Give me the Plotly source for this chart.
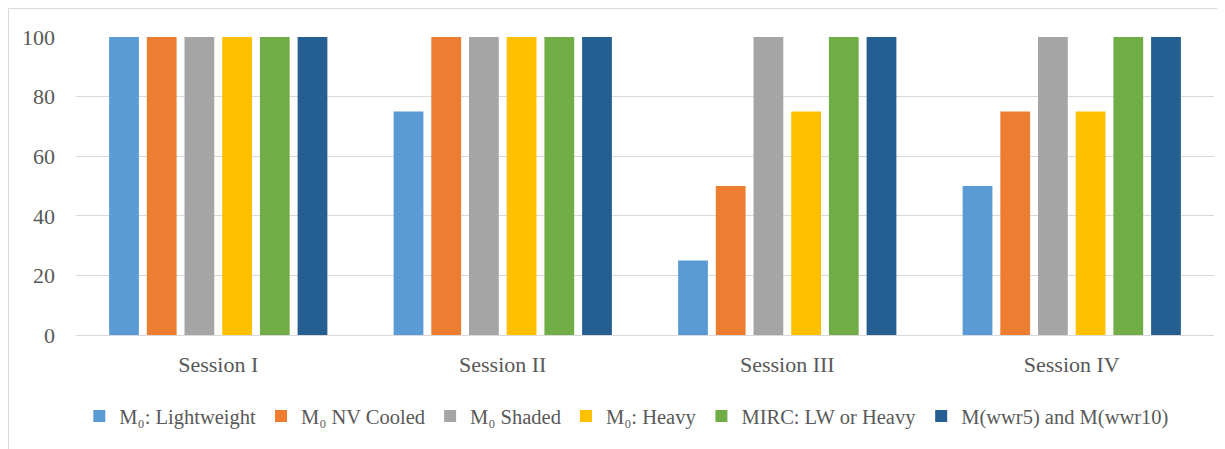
import plotly.graph_objects as go

categories = ["Session I", "Session II", "Session III", "Session IV"]
series_names = ["M₀: Lightweight", "M₀ NV Cooled", "M₀ Shaded", "M₀: Heavy",
                "MIRC: LW or Heavy", "M(wwr5) and M(wwr10)"]
values = [
    [100, 75, 25, 50],
    [100, 100, 50, 75],
    [100, 100, 100, 100],
    [100, 100, 75, 75],
    [100, 100, 100, 100],
    [100, 100, 100, 100],
]
colors = ["#5B9BD5", "#ED7D31", "#A5A5A5", "#FFC000", "#70AD47", "#255E91"]
y_ticks = [0, 20, 40, 60, 80, 100]

fig = go.Figure()
for name, vals, col in zip(series_names, values, colors):
    fig.add_trace(go.Bar(x=categories, y=vals, name=name, marker_color=col,
                         marker_line_width=0))

fam = "Liberation Serif, Times New Roman, serif"
tick_font = dict(family=fam, size=22, color="#595959")
leg_font = dict(family=fam, size=20.5, color="#595959")
fig.update_layout(
    width=1217, height=441,
    margin=dict(l=68, r=11, t=29, b=114),
    paper_bgcolor="white", plot_bgcolor="white",
    barmode="group", bargap=0.205, bargroupgap=0.21,
    font=tick_font,
    showlegend=True,
    legend=dict(orientation="h", x=0.484, xanchor="center", y=-0.272, yanchor="middle",
                font=leg_font, itemwidth=30, tracegroupgap=0),
    shapes=[
        dict(type="line", xref="paper", yref="paper",
             x0=-0.0593, x1=1.0097, y0=1.0956, y1=1.0956,
             line=dict(color="#D9D9D9", width=1)),
        dict(type="line", xref="paper", yref="paper",
             x0=-0.0593, x1=-0.0593, y0=-0.3826, y1=1.0956,
             line=dict(color="#D9D9D9", width=1)),
    ],
)
fig.update_xaxes(showgrid=False, showline=True, linecolor="#D9D9D9", linewidth=1,
                 ticks="", tickfont=tick_font, ticklabelstandoff=10)
fig.update_yaxes(range=[0, 100], tickvals=y_ticks, showgrid=True, gridcolor="#D9D9D9",
                 gridwidth=1, zeroline=False, showline=False, ticks="",
                 tickfont=tick_font, ticklabelstandoff=20)
fig.write_html("out.html")
